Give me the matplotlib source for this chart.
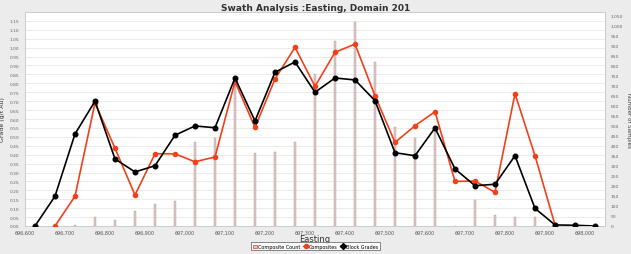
import matplotlib
matplotlib.use("Agg")
import matplotlib.pyplot as plt
import numpy as np
from matplotlib.lines import Line2D
from matplotlib.patches import Patch

nan = np.nan
easting = [696625, 696675, 696725, 696775, 696825, 696875, 696925, 696975,
           697025, 697075, 697125, 697175, 697225, 697275, 697325, 697375,
           697425, 697475, 697525, 697575, 697625, 697675, 697725, 697775,
           697825, 697875, 697925, 697975, 698025]
block_grades = [0.0, 0.167, 0.516, 0.70, 0.376, 0.303, 0.338, 0.509, 0.561, 0.551,
                0.83, 0.589, 0.862, 0.92, 0.75, 0.83, 0.819, 0.703, 0.411, 0.394,
                0.55, 0.32, 0.226, 0.234, 0.394, 0.099, 0.006, 0.004, 0.0]
composites = [nan, 0.0, 0.167, 0.69, 0.436, 0.174, 0.405, 0.405, 0.36, 0.387,
              0.81, 0.553, 0.824, 1.002, 0.783, 0.974, 1.02, 0.73, 0.469, 0.562,
              0.641, 0.25, 0.252, 0.189, 0.742, 0.394, 0.006, nan, nan]
composite_count = [0, 0, 5, 45, 28, 73, 110, 125, 419, 440,
                   700, 361, 370, 416, 757, 922, 1013, 815, 494, 439,
                   494, 0, 130, 56, 43, 43, 0, 0, 0]

x_ticks = [696600, 696700, 696800, 696900, 697000, 697100, 697200, 697300,
           697400, 697500, 697600, 697700, 697800, 697900, 698000]
x_tick_labels = ["696,600", "696,700", "696,800", "696,900", "697,000", "697,100",
                 "697,200", "697,300", "697,400", "697,500", "697,600", "697,700",
                 "697,800", "697,900", "698,000"]
grade_ticks = [round(0.05 * i, 2) for i in range(24)]
count_ticks = list(range(0, 1051, 50))

red = "#f2401a"
bg = "#ececec"

fig = plt.figure(figsize=(6.31, 2.55), dpi=100, facecolor=bg)
ax = fig.add_axes([25/631, 28/255, 580/631, 214/255])
ax2 = ax.twinx()
ax.set_zorder(ax2.get_zorder() + 1)
ax.patch.set_visible(False)
ax2.patch.set_visible(True)
ax2.set_facecolor("white")

# bars (right axis)
ax2.bar(easting, composite_count, width=4.5, color="#dcc4c4", edgecolor="#bf9c9c",
        linewidth=0.3, zorder=2)
ax2.set_ylim(0, 1065)
ax2.set_yticks(count_ticks)
ax2.set_yticklabels([f"{v:,}" for v in count_ticks])
ax2.tick_params(axis="y", labelsize=3.2, colors="#666666", length=0, pad=4)
ax2.set_ylabel("Number of Samples", fontsize=4, color="#444444", rotation=-90, labelpad=6)
ax2.set_xlim(696600, 698050)
ax2.set_xticks(x_ticks)
ax2.grid(True, axis="both", color="#e8e8e8", linewidth=0.6, zorder=0)
ax2.set_axisbelow(True)

ax.plot(easting, composites, color=red, marker="o", markersize=3, linewidth=1.2, zorder=3)
ax.plot(easting, block_grades, color="black", marker="o", markersize=3.3, linewidth=1.2, zorder=4)
ax.set_xlim(696600, 698050)
ax.set_ylim(0, 1.2)
ax.set_yticks(grade_ticks)
ax.set_yticklabels([f"{v:.2f}" for v in grade_ticks])
ax.set_xticks(x_ticks)
ax.set_xticklabels(x_tick_labels)
ax.tick_params(axis="y", labelsize=3.2, colors="#666666", length=0, pad=4)
ax.tick_params(axis="x", labelsize=3.5, colors="#555555", length=0, pad=2.5)
ax.set_ylabel("Grade (g/t Au)", fontsize=4.5, color="#333333", labelpad=3)
ax.set_xlabel("Easting", fontsize=6, color="#333333", labelpad=0)

# horizontal gridlines at left ticks on background axis
for g in grade_ticks[1:]:
    ax2.axhline(g / 1.2 * 1065, color="#e8e8e8", linewidth=0.6, zorder=0)
ax2.yaxis.grid(False)

for a in (ax, ax2):
    for s in a.spines.values():
        s.set_color("#cccccc")
        s.set_linewidth(0.6)

fig.suptitle("Swath Analysis :Easting, Domain 201", fontsize=6.5, fontweight="bold",
             color="#333333", y=0.985)

handles = [Patch(facecolor="#dcc4c4", edgecolor=red, linewidth=0.5),
           Line2D([], [], color=red, marker="o", markersize=3, linewidth=1),
           Line2D([], [], color="black", marker="D", markersize=3, linewidth=1)]
leg = fig.legend(handles, ["Composite Count", "Composites", "Block Grades"],
                 loc="center", bbox_to_anchor=(0.5, 0.03), ncol=3, fontsize=3.5,
                 frameon=True, fancybox=False, edgecolor="#333333",
                 handlelength=1.0, handletextpad=0.2, columnspacing=0.5,
                 borderpad=0.3, handleheight=0.6)
leg.get_frame().set_linewidth(0.5)

fig.savefig("out.png", dpi=100, facecolor=bg)
